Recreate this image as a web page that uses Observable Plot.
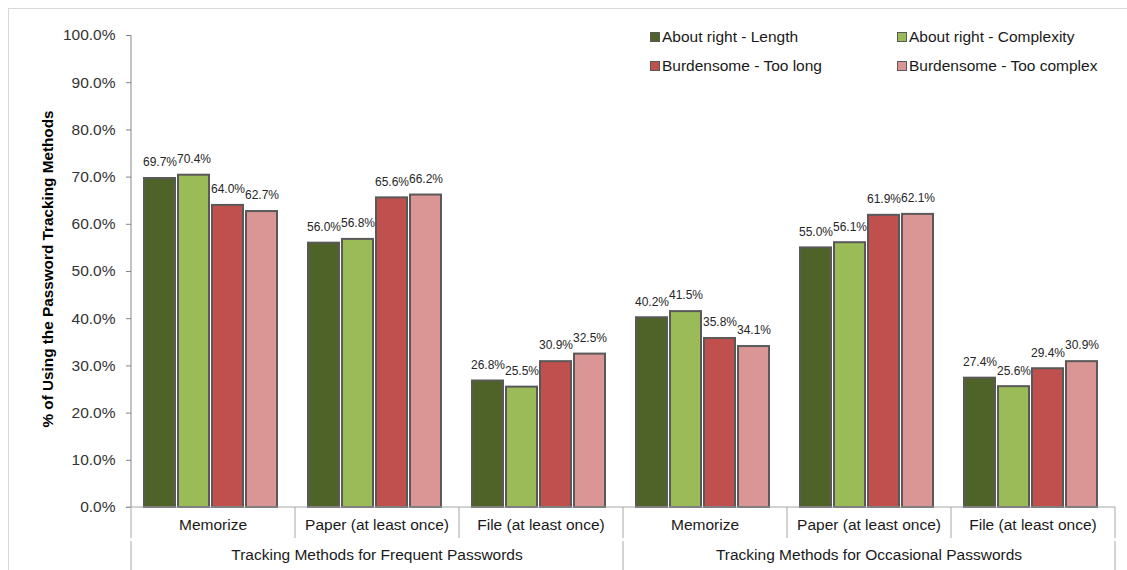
<!DOCTYPE html>
<html>
<head>
<meta charset="utf-8">
<script src="https://cdn.jsdelivr.net/npm/d3@7"></script>
<script src="https://cdn.jsdelivr.net/npm/@observablehq/plot@0.6"></script>
<style>
  body { margin: 0; background: #fff; font-family: "Liberation Sans", Arial, sans-serif; }
  #wrap { position: relative; width: 1127px; height: 570px; overflow: hidden; }
  #border { position: absolute; left: 8px; top: 8px; width: 1300px; height: 800px; border: 1px solid #d9d9d9; }
  #chart { position: absolute; left: 0; top: 0; }
  #legend { position: absolute; left: 650px; top: 28px; display: grid; grid-template-columns: 247px 230px; row-gap: 11px; }
  .item { display: flex; align-items: center; font-size: 15.5px; color: #1a1a1a; height: 18px; white-space: nowrap; }
  .sw { width: 8px; height: 8px; border: 1px solid #595959; margin-right: 2px; }
</style>
</head>
<body>
<div id="wrap">
  <div id="border"></div>
  <div id="chart"></div>
  <div id="legend"></div>
</div>
<script>
const groups = ["Tracking Methods for Frequent Passwords", "Tracking Methods for Occasional Passwords"];
const methods = ["Memorize", "Paper (at least once)", "File (at least once)"];
const series = ["About right - Length", "About right - Complexity", "Burdensome - Too long", "Burdensome - Too complex"];
const frequentValues = [
  [69.7, 70.4, 64.0, 62.7],
  [56.0, 56.8, 65.6, 66.2],
  [26.8, 25.5, 30.9, 32.5]
];
const occasionalValues = [
  [40.2, 41.5, 35.8, 34.1],
  [55.0, 56.1, 61.9, 62.1],
  [27.4, 25.6, 29.4, 30.9]
];
const colors = ["#4f6228", "#9bbb59", "#c0504d", "#d99694"];
const yTicks = [0, 0.1, 0.2, 0.3, 0.4, 0.5, 0.6, 0.7, 0.8, 0.9, 1.0];
const yTitle = "% of Using the Password Tracking Methods";

const valueSets = [frequentValues, occasionalValues];
const keys = [];
const rows = [];
groups.forEach((g, gi) => {
  methods.forEach((m, mi) => {
    const key = g + "|" + m;
    keys.push(key);
    series.forEach((s, si) => {
      rows.push({group: g, method: m, key, series: s, value: valueSets[gi][mi][si] / 100});
    });
  });
});

const pct = d3.format(".1%");

const chart = Plot.plot({
  width: 1127,
  height: 570,
  marginLeft: 130,
  marginRight: 11,
  marginTop: 35,
  marginBottom: 63,
  style: { fontFamily: "'Liberation Sans', Arial, sans-serif", fontSize: "15.5px", color: "#404040", background: "transparent" },
  fx: { domain: keys, padding: 0, axis: null },
  x: { domain: series, paddingInner: 0.1, paddingOuter: 0.4, align: 0.42, axis: null },
  y: { domain: [0, 1], axis: null },
  color: { domain: series, range: colors },
  marks: [
    Plot.axisY({ ticks: yTicks, tickFormat: pct, tickSize: 5, tickPadding: 11, label: null, fontSize: 15.5, stroke: "#868686", fill: "#333" }),
    Plot.barY(rows, { fx: "key", x: "series", y: "value", fill: "series", stroke: "#595959", strokeWidth: 2 }),
    Plot.text(rows, { fx: "key", x: "series", y: "value", text: d => pct(d.value), dy: -16, fontSize: 12, fill: "#262626" })
  ]
});
document.getElementById("chart").append(chart);

// Hierarchical category axis and y-axis line, positioned by Plot's scales
const fx = chart.scale("fx");
const ys = chart.scale("y");
const svg = d3.select(chart);
const y0 = ys.apply(0);
const yTop = ys.apply(1);
const left = fx.apply(keys[0]);
const right = fx.apply(keys[keys.length - 1]) + fx.bandwidth;
const g = svg.append("g");
const lineColor = "#a6a6a6";

g.append("line").attr("x1", left).attr("x2", left).attr("y1", yTop).attr("y2", y0).attr("stroke", "#868686");
g.append("line").attr("x1", left - 5).attr("x2", right).attr("y1", y0).attr("y2", y0).attr("stroke", lineColor);

const bounds = keys.map(k => fx.apply(k)).concat([right]);
bounds.forEach((bx, i) => {
  g.append("line").attr("x1", bx).attr("x2", bx).attr("y1", y0).attr("y2", y0 + 31).attr("stroke", lineColor);
  if (i % methods.length === 0) {
    g.append("line").attr("x1", bx).attr("x2", bx).attr("y1", y0 + 34).attr("y2", y0 + 70).attr("stroke", lineColor);
  }
});
keys.forEach((k, i) => {
  g.append("text").attr("x", fx.apply(k) + fx.bandwidth / 2).attr("y", y0 + 19)
    .attr("text-anchor", "middle").attr("dominant-baseline", "middle")
    .attr("font-size", 15.5).attr("fill", "#1a1a1a").text(methods[i % methods.length]);
});
groups.forEach((gname, gi) => {
  const a = fx.apply(keys[gi * methods.length]);
  const b = fx.apply(keys[gi * methods.length + methods.length - 1]) + fx.bandwidth;
  g.append("text").attr("x", (a + b) / 2).attr("y", y0 + 49)
    .attr("text-anchor", "middle").attr("dominant-baseline", "middle")
    .attr("font-size", 15.5).attr("fill", "#1a1a1a").text(gname);
});
g.append("text")
  .attr("transform", `translate(${left - 82},${(y0 + yTop) / 2 - 2}) rotate(-90)`)
  .attr("text-anchor", "middle").attr("dominant-baseline", "middle")
  .attr("font-size", 15.3).attr("font-weight", "bold").attr("fill", "#000").text(yTitle);

// Legend
const legend = d3.select("#legend");
series.forEach((s, i) => {
  const it = legend.append("div").attr("class", "item");
  it.append("div").attr("class", "sw").style("background", colors[i]);
  it.append("span").text(s);
});
</script>
</body>
</html>
